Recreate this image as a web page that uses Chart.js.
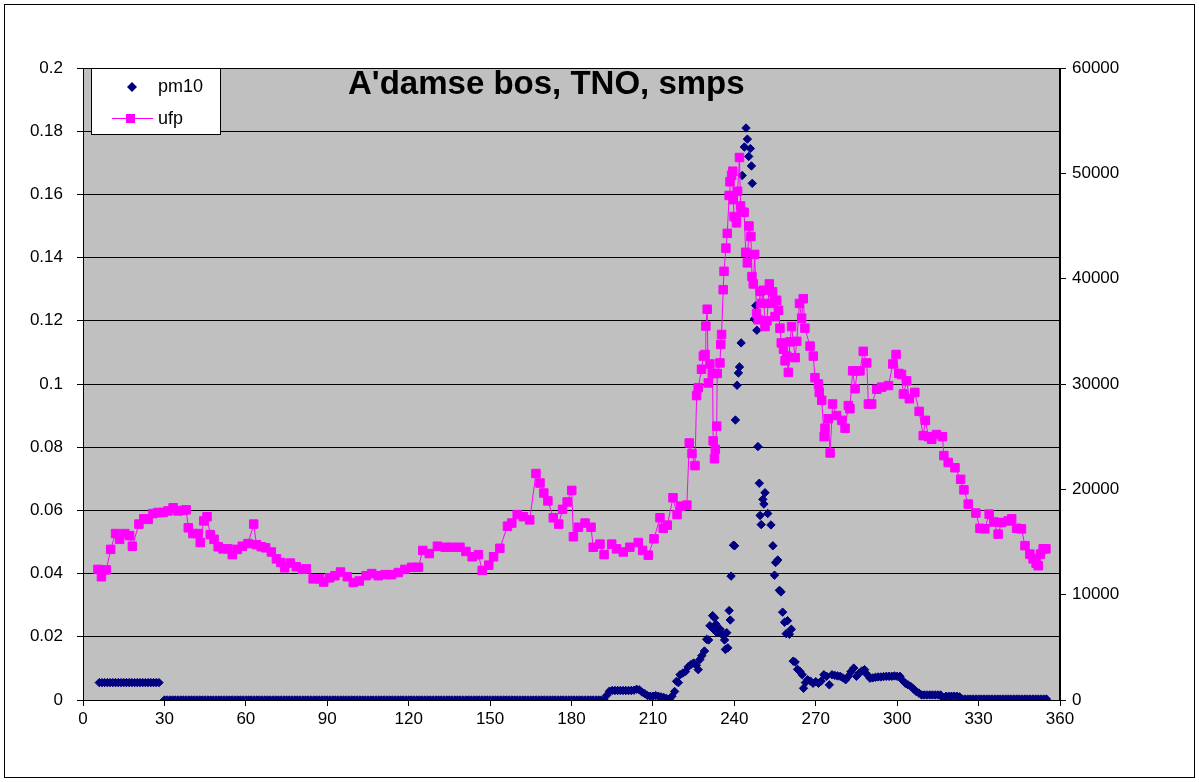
<!DOCTYPE html>
<html>
<head>
<meta charset="utf-8">
<script src="https://cdn.jsdelivr.net/npm/chart.js@4.4.1/dist/chart.umd.min.js"></script>
<style>
  html, body { margin: 0; padding: 0; background: #fff; }
  #wrap { width: 1199px; height: 782px; }
</style>
</head>
<body>
<div id="wrap"><canvas id="chart" width="1199" height="782"></canvas></div>
<script>
// wind direction (degrees) and pm10 readings
const pm10Dir = [
    6, 7, 8, 9, 10, 11, 12, 13, 14, 15, 16, 17, 18, 19, 20, 21, 22, 23, 24, 25, 26, 27, 28,
    30, 31, 32, 33, 34, 35, 36, 37, 38, 39, 40, 41, 42, 43, 44, 45, 46, 47, 48, 49,
    50, 51, 52, 53, 54, 55, 56, 57, 58, 59, 60, 61, 62, 63, 64, 65, 66, 67, 68, 69,
    70, 71, 72, 73, 74, 75, 76, 77, 78, 79, 80, 81, 82, 83, 84, 85, 86, 87, 88, 89,
    90, 91, 92, 93, 94, 95, 96, 97, 98, 99, 100, 101, 102, 103, 104, 105, 106, 107, 108, 109,
    110, 111, 112, 113, 114, 115, 116, 117, 118, 119, 120, 121, 122, 123, 124, 125, 126, 127, 128, 129,
    130, 131, 132, 133, 134, 135, 136, 137, 138, 139, 140, 141, 142, 143, 144, 145, 146, 147, 148, 149,
    150, 151, 152, 153, 154, 155, 156, 157, 158, 159, 160, 161, 162, 163, 164, 165, 166, 167, 168, 169,
    170, 171, 172, 173, 174, 175, 176, 177, 178, 179, 180, 181, 182, 183, 184, 185, 186, 187, 188, 189,
    190, 191, 192, 193, 194, 195, 196, 197, 198, 199, 200, 201, 202, 203, 204, 205, 206, 207, 208, 209,
    210, 211, 212, 213, 214, 215, 216, 217, 218, 218.7, 219.4, 220, 221, 222, 223, 224, 225, 226, 226.7, 227.3,
    228, 229, 229.8, 230.5, 231, 232, 232.3, 232.7, 233.2, 233.6, 234.2, 234.8, 235.2, 236, 236.4, 236.7,
    237.2, 237.6, 238.1, 238.5, 238.8, 239.7, 240.1, 240.4, 241, 241.5, 241.9, 242.5, 242.9, 243.7, 244.3,
    244.8, 245.3, 245.9, 246.3, 246.6, 247, 247.4, 247.9, 248.3, 248.7, 249.2, 249.5, 249.9, 250.5, 250.9,
    251.3, 252.3, 253.5, 254.2, 254.8, 255.2, 256, 256.6, 257.2, 257.8, 258.5, 259.1, 259.6, 260.3, 261,
    261.7, 262.4, 263.3, 264.2, 265, 265.5, 266.2, 267, 268, 269, 270, 271, 272, 273, 274, 275, 276, 277,
    278, 279, 280, 281, 282, 283, 284, 285, 286, 287, 288, 289, 290, 291, 292, 293, 294, 295, 296, 297,
    298, 299, 300, 301, 302, 303, 304, 305, 306, 307, 308, 309, 310, 311, 312, 313, 314, 315, 316, 317,
    318, 319, 320, 321, 322, 323, 324, 325, 326, 327, 328, 329, 330, 331, 332, 333, 334, 335, 336, 337,
    338, 339, 340, 341, 342, 343, 344, 345, 346, 347, 348, 349, 350, 351, 352, 353, 354, 355
];
const pm10Val = [
    0.0055, 0.0055, 0.0055, 0.0055, 0.0055, 0.0055, 0.0055, 0.0055, 0.0055, 0.0055, 0.0055, 0.0055,
    0.0055, 0.0055, 0.0055, 0.0055, 0.0055, 0.0055, 0.0055, 0.0055, 0.0055, 0.0055, 0.0055,
    0, 0, 0, 0, 0, 0, 0, 0, 0, 0, 0, 0, 0, 0, 0, 0, 0, 0, 0, 0,
    0, 0, 0, 0, 0, 0, 0, 0, 0, 0, 0, 0, 0, 0, 0, 0, 0, 0, 0, 0,
    0, 0, 0, 0, 0, 0, 0, 0, 0, 0, 0, 0, 0, 0, 0, 0, 0, 0, 0, 0,
    0, 0, 0, 0, 0, 0, 0, 0, 0, 0, 0, 0, 0, 0, 0, 0, 0, 0, 0, 0,
    0, 0, 0, 0, 0, 0, 0, 0, 0, 0, 0, 0, 0, 0, 0, 0, 0, 0, 0, 0,
    0, 0, 0, 0, 0, 0, 0, 0, 0, 0, 0, 0, 0, 0, 0, 0, 0, 0, 0, 0,
    0, 0, 0, 0, 0, 0, 0, 0, 0, 0, 0, 0, 0, 0, 0, 0, 0, 0, 0, 0,
    0, 0, 0, 0, 0, 0, 0, 0, 0, 0, 0, 0, 0, 0, 0, 0, 0, 0, 0, 0,
    0, 0, 0, 0.0015, 0.0028, 0.003, 0.003, 0.003, 0.003, 0.003, 0.003, 0.003, 0.003, 0.0031, 0.0034, 0.0032,
    0.0025, 0.002, 0.0014, 0.0012,
    0.0012, 0.0014, 0.0012, 0.001, 0.0008, 0.0005, 0.0002, 0.0012, 0.0027, 0.0059, 0.0055, 0.008, 0.0085,
    0.009, 0.0105, 0.0112, 0.0117, 0.011, 0.0096, 0.0128,
    0.014, 0.0155, 0.0192, 0.019, 0.0235, 0.0267, 0.0224, 0.026, 0.024, 0.0213, 0.022, 0.0224, 0.021,
    0.0203, 0.019, 0.016,
    0.0213, 0.0165, 0.0283, 0.0253, 0.0392, 0.049, 0.0488, 0.0886, 0.0996, 0.1035, 0.1054, 0.113, 0.166,
    0.175, 0.181,
    0.1775, 0.172, 0.1745, 0.169, 0.1635, 0.1316, 0.1206, 0.1248, 0.117, 0.0802, 0.0686, 0.0584, 0.0555,
    0.0635, 0.062,
    0.0656, 0.059, 0.0554, 0.0488, 0.0395, 0.0435, 0.0443, 0.0347, 0.0342, 0.0278, 0.0246, 0.021, 0.0251,
    0.0208, 0.0224,
    0.0123, 0.012, 0.0097, 0.009, 0.008, 0.0037, 0.0055, 0.0064, 0.006, 0.0053, 0.0058, 0.0053, 0.006,
    0.008, 0.0075, 0.0048, 0.008, 0.0078,
    0.0076, 0.0075, 0.007, 0.0064, 0.0075, 0.009, 0.0101, 0.0075, 0.0085, 0.0092, 0.0096, 0.008, 0.0069,
    0.007, 0.0072, 0.0073, 0.0073, 0.0074, 0.0075, 0.0075,
    0.0075, 0.0076, 0.0075, 0.0075, 0.0062, 0.0053, 0.0048, 0.0043, 0.0035, 0.0027, 0.0022, 0.0016,
    0.0016, 0.0016, 0.0016, 0.0016, 0.0016, 0.0016, 0.0016, 0.0005,
    0.0012, 0.0012, 0.0012, 0.0012, 0.0012, 0.001, 0.0003, 0.0003, 0.0003, 0.0003, 0.0003, 0.0003,
    0.0003, 0.0003, 0.0003, 0.0003, 0.0003, 0.0003, 0.0003, 0.0003,
    0.0003, 0.0003, 0.0003, 0.0003, 0.0003, 0.0003, 0.0003, 0.0003, 0.0003, 0.0003, 0.0003, 0.0003,
    0.0003, 0.0003, 0.0003, 0.0003, 0.0003, 0.0003
];

// wind direction (degrees) and ufp counts
const ufpDir = [
    5.5, 6.8, 8.6, 10.2, 12, 13.5, 15.4, 17.2, 18.2, 20.6, 22.4, 24, 25.8, 27.6, 29.5, 31.3, 33.2, 35,
    36.9, 38, 38.8, 40.5, 42.4, 43.2, 44.5, 45.7, 46.9, 48.3, 49.8, 51.6, 53.4, 55, 56.8, 58.7, 60.8,
    62.9, 63.9, 65.7, 67.3, 69.4, 71.3, 72.9, 74.3, 76.4, 78.6, 80.8, 82.3, 84.8, 87.2, 88.7, 90.9,
    92.8, 94.9, 97.4, 99.6, 101.8, 104.3, 106.4, 108.8, 111.3, 113.7, 116.2, 118.6, 121.1, 123.6,
    125.2, 127.6, 130.6, 133.4, 135.8, 138.9, 141.1, 143.4, 145.7, 147.1, 149.5, 151.3, 153.6, 156.4,
    158, 160, 162.3, 164.6, 166.9, 168.4, 169.8, 171.3, 173.3, 175.3, 176.7, 178.4, 180.1, 180.7,
    182.5, 185, 187.2, 188, 190.5, 192, 194.8, 196.6, 199.1, 201.5, 204.6, 206.2, 208.3, 210.4,
    212.6, 213.8, 215.3, 217.4, 218.9, 220.2, 222.5, 223.4, 224.4, 225.5, 226.1, 226.7, 227.9,
    228.6, 229.2, 229.5, 230, 230.4, 231, 232, 232.2, 232.7, 233, 233.5, 233.7, 234.7, 235, 235.3,
    235.9, 236.2, 236.9, 237.4, 238.1, 238.4, 239, 239.4, 239.6, 239.9, 240.6, 240.8, 241.2, 241.9,
    242.3, 242.9, 243.6, 244.2, 244.8, 245.4, 246.1, 246.5, 247, 247.5, 248.2, 248.8, 249.5, 250.1,
    250.7, 251.3, 252, 252.9, 253.4, 254.1, 255, 255.6, 256.3, 256.8, 257.3, 258.1, 258.7, 259.3,
    259.9, 260.5, 261.1, 262.4, 263, 264, 264.8, 265.4, 266, 267.9, 269.1, 269.7, 271, 271.3, 272.2,
    273.1, 273.4, 274.6, 275.3, 276.2, 277.7, 279.6, 280.8, 282, 282.6, 283.6, 284.5, 285.3, 286.3,
    287.5, 288.8, 289.4, 290.6, 292.5, 294.3, 296.8, 298.4, 299.6, 300.6, 301.6, 302.3, 303.5, 304.5,
    306.5, 308.1, 309.6, 310.4, 311.5, 312.7, 314.5, 316.7, 317.2, 318.8, 321.3, 323.4, 324.6, 326.2,
    329, 330.5, 332.3, 333.9, 335.6, 337.2, 338.5, 340.9, 342.2, 344, 345.8, 347.1, 348.9, 350.1,
    351.2, 352, 352.8, 353.8, 354.8
];
const ufpVal = [
    12400, 11700, 12350, 14300, 15800, 15250, 15800, 15600, 14600, 16700, 17200, 17150, 17700, 17800,
    17800, 17950, 18250, 17950, 18000, 18050, 16350, 15800, 15800, 14950, 17000, 17400, 15700, 15250,
    14550, 14350, 14350, 13800, 14300, 14600, 14850, 16700, 14750, 14550, 14450, 14050, 13400, 13050,
    12550, 13000, 12650, 12400, 12450, 11500, 11500, 11200, 11600, 11800, 12150, 11700, 11150, 11300,
    11800, 12000, 11800, 11900, 11900, 12100, 12400, 12600, 12600, 14200, 13900, 14600, 14500, 14500,
    14500, 14100, 13600, 13800, 12300, 12800, 13600, 14400, 16500, 16800, 17600, 17400, 17100, 21500,
    20600, 19650, 18900, 17300, 16700, 18100, 18800, 19900, 15500, 16400, 16800, 16400, 14500, 14800,
    13800, 14800, 14350, 14050, 14500, 14950, 14200, 13750, 15300, 17300, 16300, 16600, 19200, 17600,
    18400, 18500, 24400, 23400, 22250, 28900, 29650, 31400, 32650, 32800, 35500, 37100, 30100, 31900,
    31000, 24600, 22900, 23800, 26000, 31000, 32000, 33750, 34700, 38950, 40700, 42900, 44300, 47900,
    49200, 49800, 50200, 47500, 45900, 45800, 45300, 48300, 51500, 46900, 46300, 46300, 42500, 41500,
    45000, 44000, 40200, 39500, 42300, 36700, 36100, 38800, 37650, 38900, 35450, 36000, 39500, 37650,
    38750, 36400, 37950, 37000, 35300, 33900, 33300, 32200, 32650, 31100, 34000, 35450, 32500, 34050,
    37650, 36250, 38100, 35300, 33600, 32650, 30600, 30000, 29200, 28450, 25000, 25800, 26700, 23450,
    28100, 27000, 26550, 25800, 27950, 27650, 31250, 29550, 31250, 31250, 33100, 32000, 28100, 28100,
    29500, 29700, 29850, 31900, 32800, 31000, 30900, 29050, 30300, 28600, 29200, 27400, 25100, 26550,
    25000, 24750, 25200, 25000, 23200, 22550, 22050, 20950, 19950, 18600, 17750, 16300, 16250, 17650,
    16900, 15750, 16850, 17000, 17200, 16300, 16250, 14650, 13850, 13400, 13000, 12750, 13850, 14350,
    14350
];

const xTicks = { min: 0, max: 360, step: 30 };
const leftTicks = { min: 0, max: 0.2, step: 0.02 };
const rightTicks = { min: 0, max: 60000, step: 10000 };

const titleText = "A'damse bos, TNO, smps";
const FONT = "'Liberation Sans', Arial, sans-serif";
const NAVY = '#000080';
const MAGENTA = '#FF00FF';

const pm10Points = pm10Dir.map((d, i) => ({ x: d, y: pm10Val[i] }));
const ufpPoints = ufpDir.map((d, i) => ({ x: d, y: ufpVal[i] }));

// background, frame, title and legend
const decor = {
    id: 'decor',
    beforeDraw(chart) {
        const { ctx, chartArea: a } = chart;
        ctx.save();
        ctx.fillStyle = '#fff';
        ctx.fillRect(0, 0, chart.width, chart.height);
        ctx.fillStyle = '#C0C0C0';
        ctx.fillRect(a.left, a.top, a.right - a.left, a.bottom - a.top);
        ctx.restore();
    },
    afterDraw(chart) {
        const { ctx, chartArea: a } = chart;
        ctx.save();
        ctx.strokeStyle = '#000';
        ctx.lineWidth = 1;
        ctx.strokeRect(a.left + 0.5, a.top + 0.5, a.right - a.left - 1, a.bottom - a.top);
        ctx.strokeRect(4.5, 4.5, 1190, 773);

        // title
        ctx.fillStyle = '#000';
        ctx.font = 'bold 33px ' + FONT;
        ctx.textAlign = 'left';
        ctx.textBaseline = 'alphabetic';
        ctx.fillText(titleText, 348, 94);

        // legend
        ctx.fillStyle = '#fff';
        ctx.fillRect(91.5, 68.5, 129, 66);
        ctx.strokeRect(91.5, 68.5, 129, 66);
        ctx.fillStyle = NAVY;
        ctx.beginPath();
        ctx.moveTo(127, 87); ctx.lineTo(132, 82); ctx.lineTo(137, 87); ctx.lineTo(132, 92);
        ctx.closePath();
        ctx.fill();
        ctx.strokeStyle = MAGENTA;
        ctx.beginPath();
        ctx.moveTo(112, 118.5); ctx.lineTo(153, 118.5);
        ctx.stroke();
        ctx.fillStyle = MAGENTA;
        ctx.fillRect(126, 114, 9, 9);
        ctx.fillStyle = '#000';
        ctx.font = '18px ' + FONT;
        ctx.textBaseline = 'middle';
        ctx.fillText('pm10', 158, 87);
        ctx.fillText('ufp', 158, 119);
        ctx.restore();
    }
};

const ctx = document.getElementById('chart').getContext('2d');
const chart = new Chart(ctx, {
    type: 'scatter',
    data: {
        datasets: [
            {
                label: 'ufp',
                data: ufpPoints,
                yAxisID: 'y1',
                showLine: true,
                borderColor: MAGENTA,
                borderWidth: 1,
                pointStyle: 'rect',
                pointRadius: 6,
                pointBackgroundColor: MAGENTA,
                pointBorderColor: MAGENTA,
                pointBorderWidth: 1
            },
            {
                label: 'pm10',
                data: pm10Points,
                yAxisID: 'y',
                showLine: false,
                pointStyle: 'rectRot',
                pointRadius: 4.2,
                pointBackgroundColor: NAVY,
                pointBorderColor: NAVY,
                pointBorderWidth: 1
            }
        ]
    },
    options: {
        responsive: false,
        devicePixelRatio: 1,
        animation: false,
        events: [],
        layout: { padding: { top: 68, left: 0, right: 0, bottom: 0 } },
        plugins: {
            legend: { display: false },
            tooltip: { enabled: false },
            title: { display: false }
        },
        scales: {
            x: {
                type: 'linear',
                position: 'bottom',
                min: xTicks.min,
                max: xTicks.max,
                ticks: {
                    stepSize: xTicks.step,
                    color: '#000',
                    font: { family: FONT, size: 17 },
                    padding: 3,
                    maxRotation: 0
                },
                grid: { drawOnChartArea: false, drawTicks: true, tickLength: 6, color: '#000' },
                border: { color: '#000' },
                afterFit: s => { s.height = 82; }
            },
            y: {
                type: 'linear',
                position: 'left',
                min: leftTicks.min,
                max: leftTicks.max,
                ticks: {
                    stepSize: leftTicks.step,
                    color: '#000',
                    font: { family: FONT, size: 17 },
                    padding: 14,
                    callback: v => String(+v.toFixed(2))
                },
                grid: { color: '#000', tickLength: 6 },
                border: { color: '#000' },
                afterFit: s => { s.width = 83; }
            },
            y1: {
                type: 'linear',
                position: 'right',
                min: rightTicks.min,
                max: rightTicks.max,
                ticks: {
                    stepSize: rightTicks.step,
                    color: '#000',
                    font: { family: FONT, size: 17 },
                    padding: 6,
                    callback: v => String(Math.round(v))
                },
                grid: { drawOnChartArea: false, tickLength: 6, color: '#000' },
                border: { color: '#000' },
                afterFit: s => { s.width = 139; }
            }
        }
    },
    plugins: [decor]
});
</script>
</body>
</html>
